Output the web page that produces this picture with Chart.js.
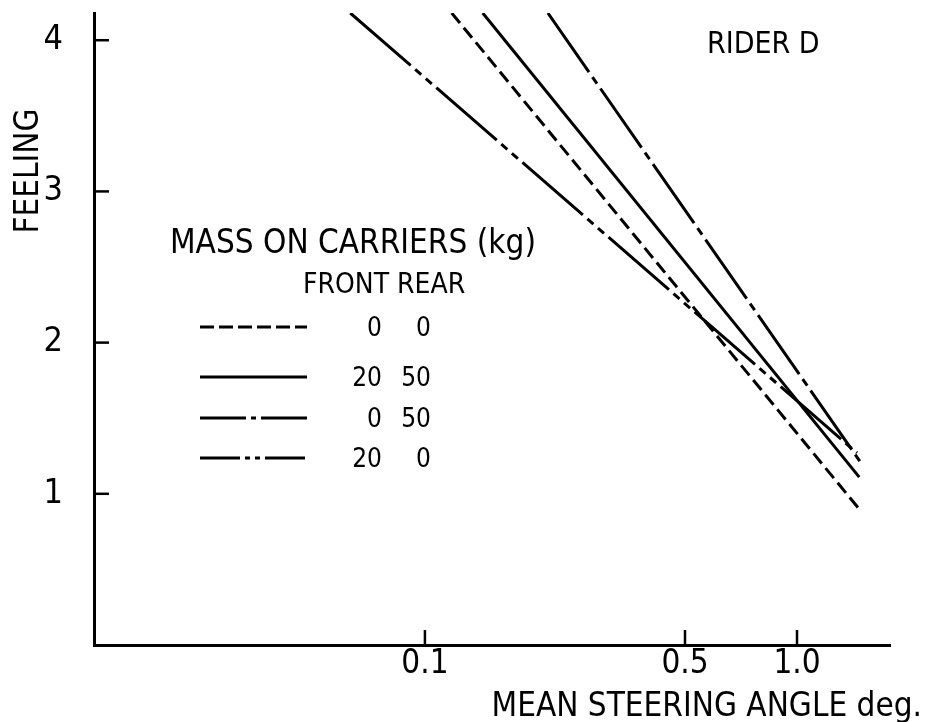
<!DOCTYPE html>
<html>
<head>
<meta charset="utf-8">
<script src="https://cdn.jsdelivr.net/npm/chart.js@4.4.0/dist/chart.umd.min.js"></script>
<style>
  html, body { margin: 0; padding: 0; background: #fff; }
  #wrap { width: 926px; height: 722px; }
</style>
</head>
<body>
<div id="wrap"><canvas id="chart" width="926" height="722"></canvas></div>
<script>
// Axis ticks
const xTickValues = [0.1, 0.5, 1.0];
const xTickLabels = ['0.1', '0.5', '1.0'];
const yTickValues = [1, 2, 3, 4];

// Fitted lines: mean steering angle (deg) against feeling, one pair of end points per load case
const angle_0_0 = [0.118, 1.48];
const feel_0_0 = [4.18, 0.89];
const angle_20_50 = [0.143, 1.47];
const feel_20_50 = [4.18, 1.11];
const angle_0_50 = [0.214, 1.50];
const feel_0_50 = [4.18, 1.19];
const angle_20_0 = [0.063, 1.45];
const feel_20_0 = [4.18, 1.27];

// Mass on carriers (kg) for each load case
const massFront = ['0', '20', '0', '20'];
const massRear = ['0', '50', '50', '0'];

const FONT = "'DejaVu Sans Condensed', 'Liberation Sans Narrow', 'DejaVu Sans', sans-serif";

const toPoints = (xs, ys) => xs.map((v, i) => ({ x: v, y: ys[i] }));

// Dash patterns for the plotted lines and the shorter legend samples
const styles = [
  { dash: [13, 6], legendDash: [14, 5] },
  { dash: [], legendDash: [] },
  { dash: [72, 6, 8, 6], legendDash: [46, 5, 5, 5] },
  { dash: [80, 6, 8, 6, 8, 6], legendDash: [40, 5, 5, 5, 5, 5] }
];

const lineData = [
  toPoints(angle_0_0, feel_0_0),
  toPoints(angle_20_50, feel_20_50),
  toPoints(angle_0_50, feel_0_50),
  toPoints(angle_20_0, feel_20_0)
];

const datasets = lineData.map((pts, i) => ({
  label: massFront[i] + ' / ' + massRear[i],
  data: pts,
  showLine: true,
  borderColor: '#000',
  borderWidth: 3,
  borderDash: styles[i].dash,
  pointRadius: 0,
  fill: false
}));

// Inward tick marks, titles and the hand-laid legend
const decorations = {
  id: 'decorations',
  afterDraw(chart) {
    const { ctx, chartArea, scales: { x, y } } = chart;
    ctx.save();
    ctx.strokeStyle = '#000';
    ctx.fillStyle = '#000';
    ctx.lineWidth = 2.5;
    ctx.lineCap = 'butt';

    yTickValues.forEach(v => {
      const py = y.getPixelForValue(v);
      ctx.beginPath();
      ctx.moveTo(chartArea.left, py);
      ctx.lineTo(chartArea.left + 15, py);
      ctx.stroke();
    });
    xTickValues.forEach(v => {
      const px = x.getPixelForValue(v);
      ctx.beginPath();
      ctx.moveTo(px, chartArea.bottom);
      ctx.lineTo(px, chartArea.bottom - 15);
      ctx.stroke();
    });

    ctx.textBaseline = 'alphabetic';
    ctx.textAlign = 'left';
    ctx.font = '30px ' + FONT;
    ctx.fillText('RIDER D', 707, 53);

    ctx.font = '33px ' + FONT;
    ctx.fillText('MASS ON CARRIERS (kg)', 170, 253);

    ctx.font = '28px ' + FONT;
    ctx.fillText('FRONT REAR', 303, 293);

    ctx.font = '33px ' + FONT;
    ctx.textAlign = 'right';
    ctx.fillText('MEAN STEERING ANGLE deg.', 922, 716);

    ctx.save();
    ctx.translate(38, 171);
    ctx.rotate(-Math.PI / 2);
    ctx.textAlign = 'center';
    ctx.font = '33px ' + FONT;
    ctx.fillText('FEELING', 0, 0);
    ctx.restore();

    const rowY = [327, 377, 418, 458];
    ctx.font = '26px ' + FONT;
    ctx.textAlign = 'right';
    chart.data.datasets.forEach((ds, i) => {
      const ly = rowY[i];
      ctx.beginPath();
      ctx.setLineDash(styles[i].legendDash);
      ctx.lineWidth = 3;
      ctx.moveTo(200, ly);
      ctx.lineTo(307, ly);
      ctx.stroke();
      ctx.setLineDash([]);
      ctx.fillText(massFront[i], 382, ly + 9);
      ctx.fillText(massRear[i], 431, ly + 9);
    });
    ctx.restore();
  }
};

new Chart(document.getElementById('chart'), {
  type: 'scatter',
  data: { datasets },
  options: {
    responsive: false,
    devicePixelRatio: 1,
    animation: false,
    layout: { padding: { top: 13, right: 36, bottom: 0, left: 0 }, autoPadding: false },
    plugins: { legend: { display: false }, tooltip: { enabled: false } },
    scales: {
      x: {
        type: 'logarithmic',
        position: 'bottom',
        min: 0.0129,
        max: 1.778,
        afterBuildTicks: s => { s.ticks = xTickValues.map(v => ({ value: v })); },
        afterFit: s => { s.height = 77; s.paddingLeft = 0; s.paddingRight = 0; },
        ticks: {
          callback: v => { const i = xTickValues.indexOf(v); return i >= 0 ? xTickLabels[i] : ''; },
          color: '#000',
          font: { family: FONT, size: 33 },
          padding: 0,
          autoSkip: false,
          maxRotation: 0
        },
        grid: { drawOnChartArea: false, drawTicks: false },
        border: { display: true, color: '#000', width: 3 }
      },
      y: {
        type: 'linear',
        min: 0,
        max: 4.18,
        afterBuildTicks: s => { s.ticks = yTickValues.map(v => ({ value: v })); },
        afterFit: s => { s.width = 94; s.paddingTop = 0; s.paddingBottom = 0; },
        ticks: {
          callback: v => String(v),
          color: '#000',
          font: { family: FONT, size: 34 },
          padding: 31
        },
        grid: { drawOnChartArea: false, drawTicks: false },
        border: { display: true, color: '#000', width: 3 }
      }
    }
  },
  plugins: [decorations]
});
</script>
</body>
</html>
